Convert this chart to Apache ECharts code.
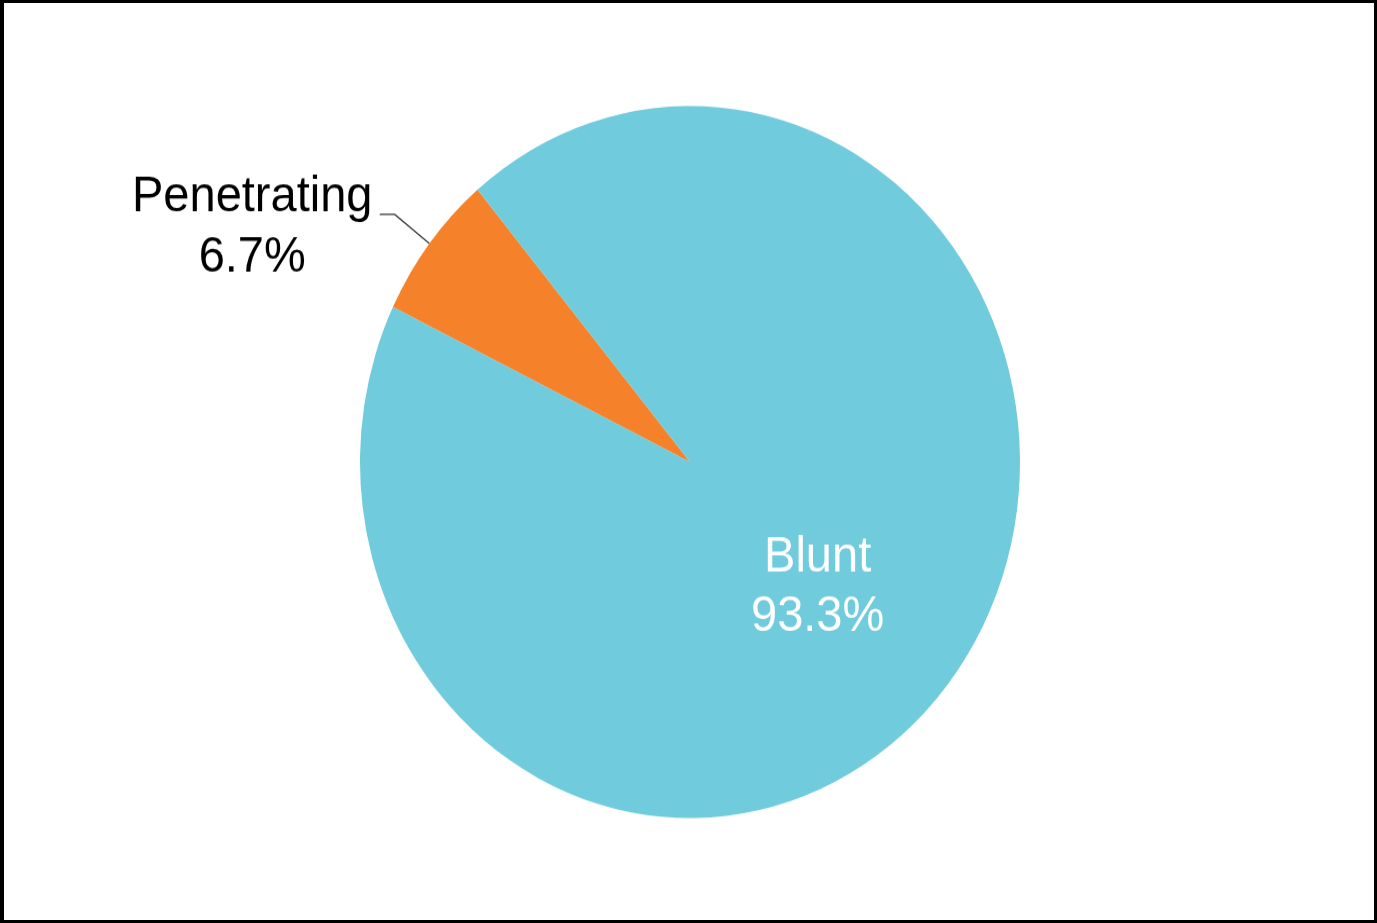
<!DOCTYPE html>
<html>
<head>
<meta charset="utf-8">
<script src="https://cdn.jsdelivr.net/npm/echarts@6/dist/echarts.min.js"></script>
<style>
html,body{margin:0;padding:0;background:#fff;}
#wrap{position:absolute;left:0;top:0;width:1377px;height:923px;box-sizing:border-box;border:3px solid #000;border-left-width:4px;overflow:hidden;}
#chart{width:1370px;height:850px;transform:scaleY(1.0788);transform-origin:0 0;}
</style>
</head>
<body>
<div id="wrap"><div id="chart"></div></div>
<script>
const categories = ['Penetrating', 'Blunt'];
const values = [6.7, 93.3];
const colors = ['#F5812A', '#70CBDC'];

const FONT = 'Liberation Sans, Arial, sans-serif';
const chart = echarts.init(document.getElementById('chart'), null, {renderer: 'canvas'});
const data = categories.map((c, i) => ({
  name: c,
  value: values[i],
  itemStyle: {color: colors[i]},
  label: i === 0 ? {
    position: 'outside',
    color: '#000',
    formatter: '{a|{b}}\n{a|{c}%}',
    padding: [24, 0, 0, 0],
    rich: {a: {width: 245, align: 'center', fontSize: 47, lineHeight: 55.5, fontFamily: FONT, color: '#000'}}
  } : {
    position: 'inside',
    color: '#fff',
    formatter: '{b}\n{c}%',
    fontSize: 47,
    lineHeight: 55.5,
    fontFamily: FONT
  },
  labelLine: i === 0 ? {show: true, length: 44, length2: 15, lineStyle: {color: '#333', width: 1.2}} : {show: false}
}));

chart.setOption({
  animation: false,
  series: [{
    type: 'pie',
    center: [686, 425.5],
    radius: ['0%', 330],
    startAngle: 154.2,
    clockwise: true,
    avoidLabelOverlap: false,
    itemStyle: {borderWidth: 0},
    emphasis: {disabled: true},
    label: {fontFamily: FONT, fontSize: 47},
    labelLayout: function (p) { return p.dataIndex === 1 ? {dx: -5, dy: 13} : {}; },
    data: data
  }]
});
</script>
</body>
</html>
